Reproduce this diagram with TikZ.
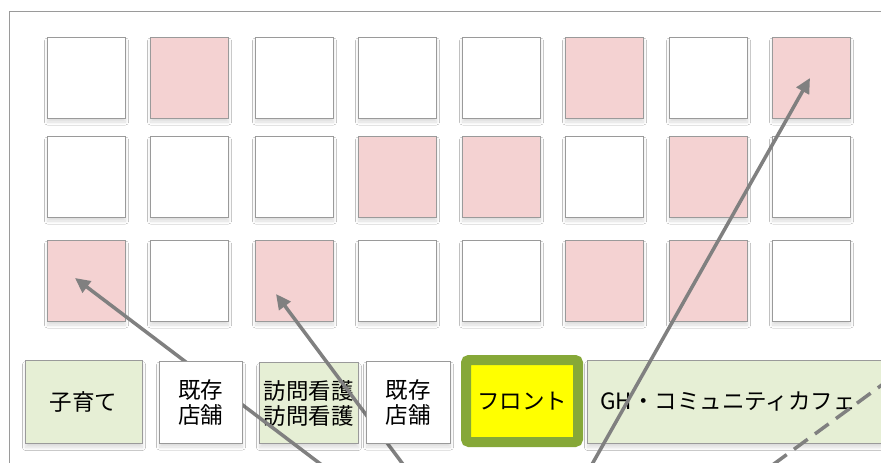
\documentclass[tikz,border=0pt]{standalone}
\usepackage{fontspec}
\newfontfamily\jpfont{Noto Sans CJK JP}
\usetikzlibrary{arrows.meta,shadows.blur}
\definecolor{pinkc}{HTML}{F4D2D2}
\definecolor{greenc}{HTML}{E6EFD5}
\definecolor{edgec}{HTML}{9A9A9A}
\definecolor{frontc}{HTML}{86A838}
\definecolor{arrowc}{HTML}{808080}
\definecolor{yel}{HTML}{FFFF00}
\begin{document}
\begin{tikzpicture}[x=1pt,y=-1pt,
  shad/.style={blur shadow={shadow blur steps=8, shadow xshift=0.5pt, shadow yshift=-4pt, shadow blur radius=3pt, shadow opacity=14}},
  sq/.style={draw=edgec, line width=0.8pt, minimum width=78pt, minimum height=81pt, inner sep=0pt, shad},
  wsq/.style={sq, fill=white},
  psq/.style={sq, fill=pinkc},
  jp/.style={font=\jpfont\fontsize{22.5}{25}\selectfont},
  lbl/.style={draw=edgec, line width=0.8pt, inner sep=0pt, shad, jp, align=center},
  arr/.style={draw=arrowc, line width=3.5pt, -{Triangle[length=15pt,width=14pt]}},
]
\useasboundingbox (0,0) rectangle (881,463);
\fill[white] (0,0) rectangle (881,463);
\draw[edgec, line width=0.8pt] (9,11) rectangle (900,490);
% grid
\foreach \c/\x/\s in {1/47/wsq,2/150/psq,3/255/wsq,4/358/wsq,5/462/wsq,6/565/psq,7/669/wsq,8/772/psq}
  \node[\s] (a\c) at (\x+39,77.5) {};
\foreach \c/\x/\s in {1/47/wsq,2/150/wsq,3/255/wsq,4/358/psq,5/462/psq,6/565/wsq,7/669/psq,8/772/wsq}
  \node[\s] (b\c) at (\x+39,176.5) {};
\foreach \c/\x/\s in {1/47/psq,2/150/wsq,3/255/psq,4/358/wsq,5/462/wsq,6/565/psq,7/669/psq,8/772/wsq}
  \node[\s] (c\c) at (\x+39,280.5) {};
% bottom boxes
\node[lbl, fill=greenc, minimum width=117pt, minimum height=83pt] (kosodate) at (83.5,402) {子育て};
\node[lbl, fill=greenc, minimum width=99pt, minimum height=81pt] (houmon) at (308.5,403) {訪問看護\\訪問看護};
\node[draw=edgec, line width=0.8pt, fill=greenc, shad, minimum width=313pt, minimum height=83pt, inner sep=0pt] (gh) at (743.5,402) {};
\node[anchor=west, jp, inner sep=0pt] (ghtext) at (600,402) {GH・コミュニティカフェ};
\node[draw=frontc, line width=10pt, fill=yel, rounded corners=3pt, minimum width=112pt, minimum height=82pt, inner sep=0pt, jp] (front) at (522,401) {フロント};
% arrows
\coordinate (s1) at (335,475);
\coordinate (t1) at (75,278);
\coordinate (s2) at (411,475);
\coordinate (t2) at (276,294);
\coordinate (s3) at (586,475);
\coordinate (t3) at (810,78);
\coordinate (d1) at (752,480);
\coordinate (d2) at (890,379);
\draw[arr] (s1) -- (t1);
\draw[arr] (s2) -- (t2);
\draw[arr] (s3) -- (t3);
\draw[draw=arrowc, line width=3.5pt, dash pattern=on 17pt off 9pt] (d1) -- (d2);
% existing shops on top
\node[lbl, fill=white, minimum width=83pt, minimum height=82pt] (kizon1) at (200.5,402) {既存\\店舗};
\node[lbl, fill=white, minimum width=84pt, minimum height=82pt] (kizon2) at (408,402) {既存\\店舗};
\end{tikzpicture}
\end{document}
